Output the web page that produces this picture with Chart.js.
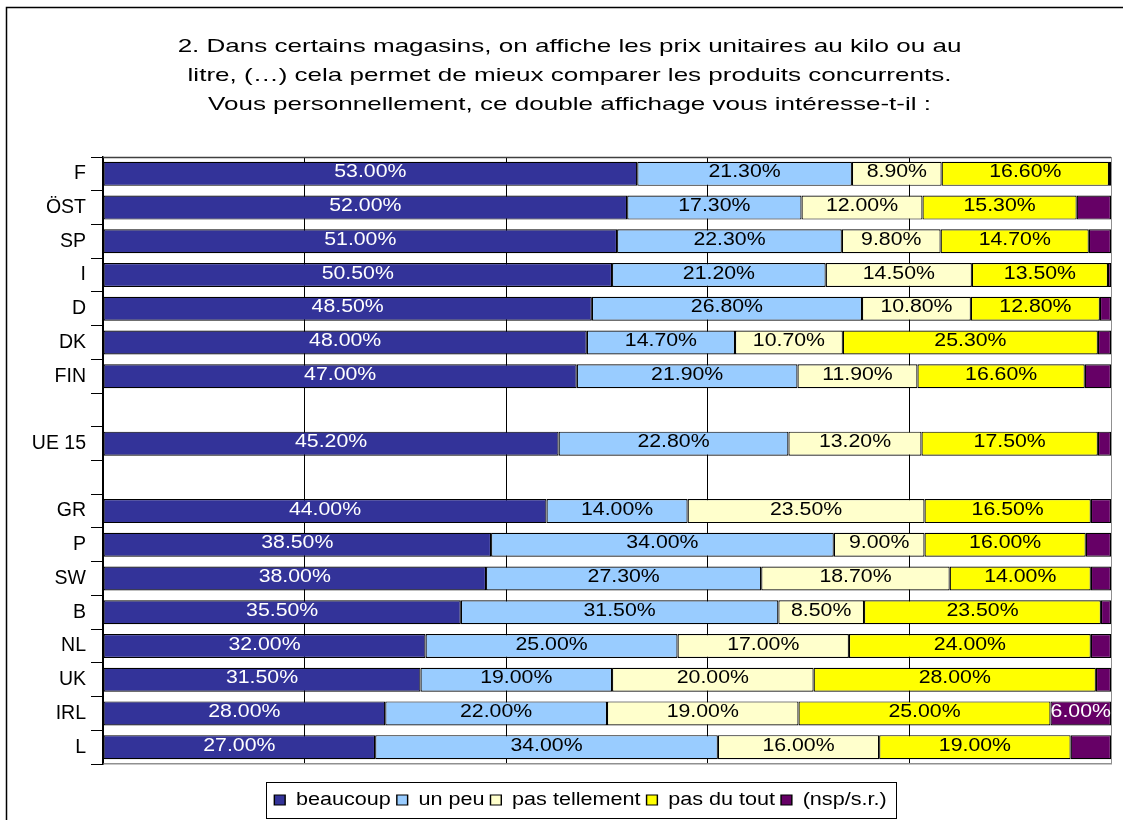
<!DOCTYPE html>
<html><head><meta charset="utf-8">
<script src="https://cdn.jsdelivr.net/npm/chart.js@4.4.1/dist/chart.umd.min.js"></script>
<style>html,body{margin:0;padding:0;background:#fff;} #wrap{width:1123px;height:820px;position:relative;}</style>
</head><body><div id="wrap"><canvas id="c" width="1123" height="820"></canvas></div>
<script>
const categories = ['F','ÖST','SP','I','D','DK','FIN','','UE 15','','GR','P','SW','B','NL','UK','IRL','L'];
const beaucoup     = [53.0,52.0,51.0,50.5,48.5,48.0,47.0,null,45.2,null,44.0,38.5,38.0,35.5,32.0,31.5,28.0,27.0];
const unPeu        = [21.3,17.3,22.3,21.2,26.8,14.7,21.9,null,22.8,null,14.0,34.0,27.3,31.5,25.0,19.0,22.0,34.0];
const pasTellement = [8.9,12.0,9.8,14.5,10.8,10.7,11.9,null,13.2,null,23.5,9.0,18.7,8.5,17.0,20.0,19.0,16.0];
const pasDuTout    = [16.6,15.3,14.7,13.5,12.8,25.3,16.6,null,17.5,null,16.5,16.0,14.0,23.5,24.0,28.0,25.0,19.0];
const nsp          = [0.2,3.4,2.2,0.3,1.1,1.3,2.6,null,1.3,null,2.0,2.5,2.0,1.0,2.0,1.5,6.0,4.0];
const seriesNames  = ['beaucoup','un peu','pas tellement','pas du tout','(nsp/s.r.)'];
const xTicks       = [0,20,40,60,80,100];
const titleLines   = ['2. Dans certains magasins, on affiche les prix unitaires au kilo ou au',
                      'litre, (…) cela permet de mieux comparer les produits concurrents.',
                      'Vous personnellement, ce double affichage vous intéresse-t-il :'];

const FONT = '"Liberation Sans", Arial, Helvetica, sans-serif';
const colors = ['#333399','#99CCFF','#FFFFCC','#FFFF00','#660066'];
const labelColors = ['#FFFFFF','#000000','#000000','#000000','#FFFFFF'];
const seriesData = [beaucoup, unPeu, pasTellement, pasDuTout, nsp];
const LEFT_PAD = 24;
const TITLE_SX = 1.37;
const LEGEND_SX = 1.2;
const LEGEND_DX = 13;
const LABEL_SX = 1.15;

function stretchBox(box, sx, dx) {
  if (!box || box.__stretched) return;
  const orig = box.draw.bind(box);
  box.draw = function (area) {
    const c = box.ctx;
    const cx = (box.left + box.right) / 2;
    c.save();
    c.translate(cx + dx, 0); c.scale(sx, 1); c.translate(-cx, 0);
    orig(area);
    c.restore();
  };
  box.__stretched = true;
}

const bgPlugin = {
  id: 'bg',
  beforeDraw(chart) {
    stretchBox(chart.titleBlock, TITLE_SX, 2);
    stretchBox(chart.legend, LEGEND_SX, LEGEND_DX);
    const c = chart.ctx;
    c.save();
    c.fillStyle = '#fff';
    c.fillRect(0, 0, chart.width, chart.height);
    c.strokeStyle = '#000';
    c.lineWidth = 1.5;
    c.strokeRect(6.5, 7.5, chart.width + 20, chart.height + 20);
    c.restore();
  }
};

const framePlugin = {
  id: 'frame',
  afterDatasetsDraw(chart) {
    const a = chart.chartArea, c = chart.ctx;
    c.save();
    c.lineWidth = 1.5;
    c.strokeStyle = '#404040';
    c.beginPath(); c.moveTo(a.left, a.top + 0.5); c.lineTo(a.right, a.top + 0.5); c.stroke();
    c.restore();
  }
};

const labelPlugin = {
  id: 'vals',
  afterDatasetsDraw(chart) {
    const c = chart.ctx;
    c.save();
    c.font = '18.5px ' + FONT;
    c.textAlign = 'center';
    c.textBaseline = 'middle';
    chart.data.datasets.forEach((ds, di) => {
      const meta = chart.getDatasetMeta(di);
      meta.data.forEach((el, i) => {
        const v = ds.data[i];
        if (v == null) return;
        if (di === 4 && v < 5) return;
        const p = el.getProps(['x', 'base', 'y'], true);
        const cx = (p.x + p.base) / 2;
        c.save();
        c.translate(cx, p.y - 1.5);
        c.scale(LABEL_SX, 1);
        c.fillStyle = labelColors[di];
        c.fillText(v.toFixed(2) + '%', 0, 0);
        c.restore();
      });
    });
    c.restore();
  }
};

const legendBoxPlugin = {
  id: 'legendBox',
  afterDraw(chart) {
    const lg = chart.legend;
    if (!lg || !lg.legendHitBoxes || !lg.legendHitBoxes.length) return;
    const hb = lg.legendHitBoxes;
    let l = Infinity, r = -Infinity;
    hb.forEach(h => { l = Math.min(l, h.left); r = Math.max(r, h.left + h.width); });
    const cx = (lg.left + lg.right) / 2;
    const L = cx + LEGEND_DX + (l - cx) * LEGEND_SX - 8;
    const R = cx + LEGEND_DX + (r - cx) * LEGEND_SX + 10;
    const c = chart.ctx;
    c.save();
    c.strokeStyle = '#000';
    c.lineWidth = 1;
    c.strokeRect(Math.round(L) + 0.5, Math.round(lg.top - 4) + 0.5, Math.round(R - L), Math.round(lg.bottom - lg.top + 3));
    c.restore();
  }
};

new Chart(document.getElementById('c'), {
  type: 'bar',
  data: {
    labels: categories,
    datasets: seriesData.map((d, i) => ({
      label: seriesNames[i],
      data: d,
      backgroundColor: colors[i],
      borderColor: '#000',
      borderWidth: 1.2,
      borderSkipped: false,
      categoryPercentage: 0.8,
      barPercentage: 0.89
    }))
  },
  options: {
    indexAxis: 'y',
    responsive: false,
    animation: false,
    devicePixelRatio: 1,
    layout: { padding: { left: LEFT_PAD, right: 12, top: 0, bottom: 1 } },
    scales: {
      x: {
        stacked: true, min: 0, max: 100,
        afterBuildTicks(s) { s.ticks = xTicks.map(v => ({ value: v })); },
        ticks: { display: false },
        grid: {
          drawTicks: false,
          color: ctx => (ctx.tick && ctx.tick.value === 100) ? '#909090' : '#000',
          lineWidth: 1
        },
        border: { display: true, color: '#909090', width: 1.5 },
        afterFit(s) { s.height = 22; }
      },
      y: {
        stacked: true,
        ticks: { autoSkip: false, color: '#000', padding: 5, font: { family: FONT, size: 19.5 } },
        grid: { drawOnChartArea: false, drawTicks: true, tickLength: 12, color: '#000', offset: true },
        border: { display: true, color: '#000', width: 1.5 },
        afterFit(s) { s.width = 103 - LEFT_PAD; }
      }
    },
    plugins: {
      title: {
        display: true,
        text: titleLines,
        color: '#000',
        font: { family: FONT, size: 19, weight: 'normal', lineHeight: 29 / 19 },
        padding: { top: 32, bottom: 38 }
      },
      legend: {
        position: 'bottom',
        labels: {
          color: '#000',
          font: { family: FONT, size: 18 },
          boxWidth: 9, boxHeight: 10,
          padding: 5
        }
      },
      tooltip: { enabled: false }
    }
  },
  plugins: [bgPlugin, framePlugin, labelPlugin, legendBoxPlugin]
});
</script></body></html>
